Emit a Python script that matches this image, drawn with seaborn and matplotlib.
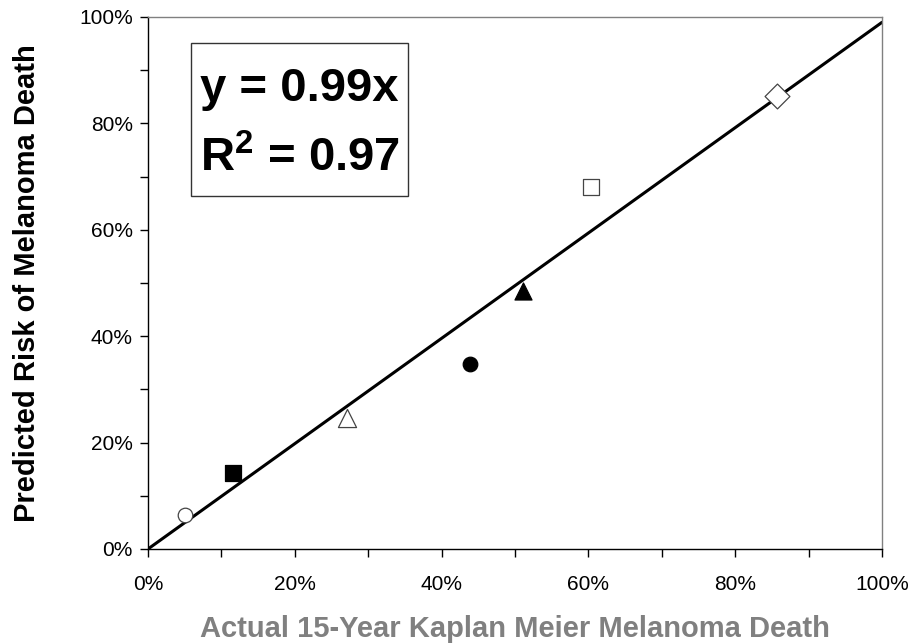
import matplotlib
matplotlib.use("Agg")
import matplotlib.pyplot as plt
from matplotlib.patches import Rectangle
import seaborn as sns
import numpy as np
import pandas as pd
from matplotlib.ticker import MultipleLocator, PercentFormatter

# Data (fractions)
actual = [0.050, 0.116, 0.271, 0.439, 0.511, 0.604, 0.857]
predicted = [0.064, 0.143, 0.246, 0.348, 0.485, 0.680, 0.852]
markers = ["o", "s", "^", "o", "^", "s", "D"]
filled = [False, True, False, True, True, False, False]
sizes = [110, 120, 170, 110, 150, 130, 160]
slope = 0.99
r2 = 0.97
fit_x = [0.0, 1.0]

sns.set_theme(style="white")
plt.rcParams["font.family"] = ["Liberation Sans", "DejaVu Sans"]
plt.rcParams["mathtext.fontset"] = "custom"
plt.rcParams["mathtext.rm"] = "Liberation Sans:bold"
plt.rcParams["mathtext.bf"] = "Liberation Sans:bold"
plt.rcParams["text.color"] = "black"

fig = plt.figure(figsize=(9.12, 6.43), dpi=100)
ax = fig.add_axes([148/912, 1-549/643, (882-148)/912, (549-17)/643])

line_df = pd.DataFrame({"x": fit_x, "y": [slope * v for v in fit_x]})
sns.lineplot(data=line_df, x="x", y="y", ax=ax, color="black", linewidth=2.2, zorder=2)

for xv, yv, m, f, s in zip(actual, predicted, markers, filled, sizes):
    d = pd.DataFrame({"x": [xv], "y": [yv]})
    sns.scatterplot(data=d, x="x", y="y", ax=ax, marker=m, s=s,
                    color="black" if f else "white",
                    edgecolor="black" if f else "#444444",
                    linewidth=0.9, zorder=3)

ax.set_xlim(0, 1)
ax.set_ylim(0, 1)
ax.xaxis.set_major_locator(MultipleLocator(0.2))
ax.yaxis.set_major_locator(MultipleLocator(0.2))
ax.xaxis.set_minor_locator(MultipleLocator(0.1))
ax.yaxis.set_minor_locator(MultipleLocator(0.1))
ax.xaxis.set_major_formatter(PercentFormatter(1.0, decimals=0))
ax.yaxis.set_major_formatter(PercentFormatter(1.0, decimals=0))
ax.tick_params(axis="both", which="both", direction="out", length=6, width=1,
               color="black", bottom=True, left=True, top=False, right=False)
ax.tick_params(axis="both", which="major", labelsize=15, labelcolor="black", pad=5)
ax.tick_params(axis="x", which="major", pad=13)

for side in ["left", "bottom"]:
    ax.spines[side].set_color("black")
    ax.spines[side].set_linewidth(1.0)
for side in ["top", "right"]:
    ax.spines[side].set_color("#808080")
    ax.spines[side].set_linewidth(1.0)

ax.set_xlabel("Actual 15-Year Kaplan Meier Melanoma Death", fontsize=21,
              fontweight="bold", color="#808080", labelpad=15)
ax.set_ylabel("Predicted Risk of Melanoma Death", fontsize=21,
              fontweight="bold", color="black", labelpad=27)

# Equation box
ax.add_patch(Rectangle((0.0586, 0.6635), 0.2956, 0.2875, transform=ax.transAxes,
                       facecolor="white", edgecolor="#333333", linewidth=1.0, zorder=4))
ax.text(0.0708, 0.842, f"y = {slope:.2f}x", transform=ax.transAxes, color="black",
        fontsize=34, fontweight="bold", va="baseline", ha="left", zorder=5)
ax.text(0.0708, 0.709, "R$^{2}$" + f" = {r2:.2f}", transform=ax.transAxes, color="black",
        fontsize=34, fontweight="bold", va="baseline", ha="left", zorder=5)

fig.savefig("out.png", dpi=100)
